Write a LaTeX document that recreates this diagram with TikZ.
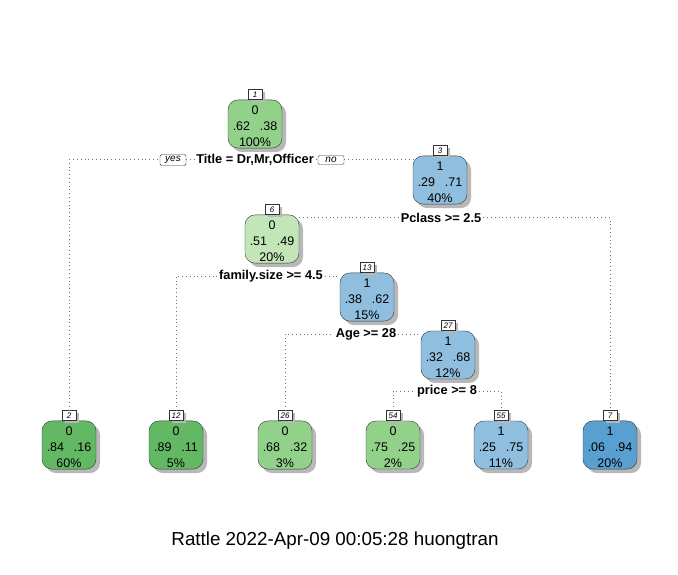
\documentclass[tikz,border=0pt]{standalone}
\usepackage{fontspec}
\setmainfont{Liberation Sans}
\usetikzlibrary{positioning, shadows}

\definecolor{greenDark}{RGB}{99,185,99}
\definecolor{greenMid}{RGB}{145,209,137}
\definecolor{greenLight}{RGB}{194,230,184}
\definecolor{blueMid}{RGB}{144,190,222}
\definecolor{blueDark}{RGB}{88,160,207}

\newcommand{\topstrut}{\rule{0pt}{14pt}}

\tikzset{
    treebox/.style={draw=black!80, rounded corners=10pt, minimum width=54pt, minimum height=47pt,
        align=center, inner sep=1pt, font=\fontsize{12.5}{16}\selectfont,
        drop shadow={shadow xshift=4pt, shadow yshift=-4pt, fill=black!28, opacity=1}},
    numlab/.style={draw=black!80, fill=white, inner sep=0.8pt, minimum width=14pt, minimum height=10pt,
        font=\fontsize{8}{8}\selectfont\itshape,
        drop shadow={shadow xshift=3pt, shadow yshift=-2pt, fill=black!28, opacity=1}},
    splitlab/.style={fill=white, inner sep=2pt, font=\fontsize{12.8}{14}\selectfont\bfseries},
    yesno/.style={draw=black!80, fill=white, rounded corners=1.5pt, inner xsep=3pt, inner ysep=1.8pt,
        minimum width=26pt, font=\fontsize{10}{11}\selectfont\itshape},
    link/.style={draw=black!55, line width=1pt, dash pattern=on 0.6pt off 3.2pt}
}

\begin{document}
\begin{tikzpicture}[x=1pt, y=-1pt]
    \useasboundingbox (0,0) rectangle (678,575);

    % inner nodes
    \node[treebox, fill=greenMid] (n1) at (255,124) {\topstrut 0\\.62\enspace\ .38\\100\%};
    \node[treebox, fill=blueMid] (n3) at (440,180) {\topstrut 1\\.29\enspace\ .71\\40\%};
    \node[treebox, fill=greenLight] (n6) at (272,239) {\topstrut 0\\.51\enspace\ .49\\20\%};
    \node[treebox, fill=blueMid] (n13) at (367,297) {\topstrut 1\\.38\enspace\ .62\\15\%};
    \node[treebox, fill=blueMid] (n27) at (448,355) {\topstrut 1\\.32\enspace\ .68\\12\%};

    % leaves
    \node[treebox, fill=greenDark] (n2) at (69,445) {\topstrut 0\\.84\enspace\ .16\\60\%};
    \node[treebox, fill=greenDark] (n12) at (176,445) {\topstrut 0\\.89\enspace\ .11\\5\%};
    \node[treebox, fill=greenMid] (n26) at (285,445) {\topstrut 0\\.68\enspace\ .32\\3\%};
    \node[treebox, fill=greenMid] (n54) at (393,445) {\topstrut 0\\.75\enspace\ .25\\2\%};
    \node[treebox, fill=blueMid] (n55) at (501,445) {\topstrut 1\\.25\enspace\ .75\\11\%};
    \node[treebox, fill=blueDark] (n7) at (610,445) {\topstrut 1\\.06\enspace\ .94\\20\%};

    % node numbers
    \foreach \n in {1,3,6,13,27,2,12,26,54,55,7}
        \node[numlab, anchor=south] (l\n) at (n\n.north) {\n};

    % split labels
    \node[splitlab] (s1) at (255,160) {Title = Dr,Mr,Officer};
    \node[yesno] (yes) at (173,160) {yes};
    \node[yesno] (no) at (331,160) {no};
    \node[splitlab] (s3) at (441,218) {Pclass >= 2.5};
    \node[splitlab] (s6) at (271,276) {family.size >= 4.5};
    \node[splitlab] (s13) at (366,334) {Age >= 28};
    \node[splitlab] (s27) at (447,391) {price >= 8};

    % connectors
    \draw[link] (l2.north) |- (yes.west);
    \draw[link] (yes.east) -- (s1.west);
    \draw[link] (s1.east) -- (no.west);
    \draw[link] (no.east) -- (no.east -| n3.west);

    \draw[link] (s3.west -| n6.east) -- (s3.west);
    \draw[link] (s3.east) -| (l7.north);

    \draw[link] (l12.north) |- (s6.west);
    \draw[link] (s6.east) -- (s6.east -| n13.west);

    \draw[link] (l26.north) |- (s13.west);
    \draw[link] (s13.east) -- (s13.east -| n27.west);

    \draw[link] (l54.north) |- (s27.west);
    \draw[link] (s27.east) -| (l55.north);

    % title
    \node[font=\fontsize{18.8}{20}\selectfont] (title) at (335,541) {Rattle 2022-Apr-09 00:05:28 huongtran};
\end{tikzpicture}
\end{document}
